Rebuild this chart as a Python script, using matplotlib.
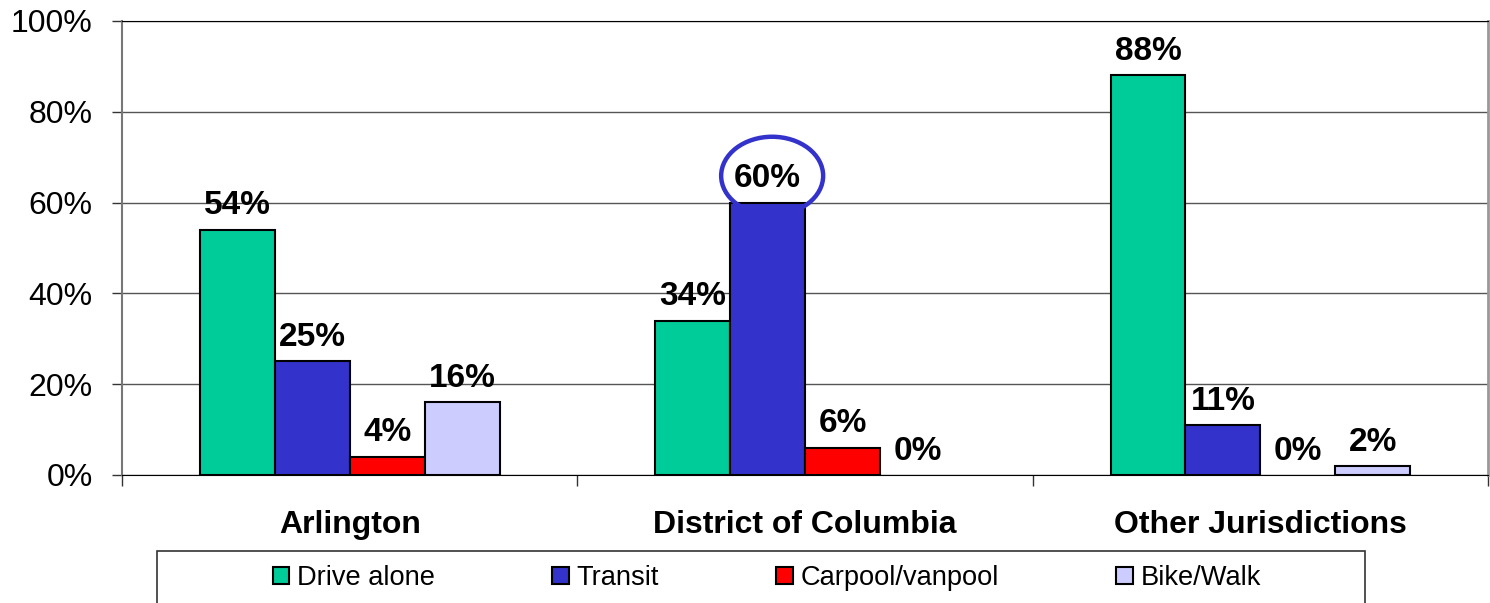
import numpy as np
import matplotlib
matplotlib.use('Agg')
import matplotlib.pyplot as plt
from matplotlib.patches import Ellipse, Rectangle

plt.rcParams['font.family'] = ['Liberation Sans', 'DejaVu Sans']

# data
groups = ['Arlington', 'District of Columbia', 'Other Jurisdictions']
modes = ['Drive alone', 'Transit', 'Carpool/vanpool', 'Bike/Walk']
drive_alone = [54, 34, 88]
transit = [25, 60, 11]
carpool = [4, 6, 0]
bike_walk = [16, 0, 2]
colors = ['#00CC99', '#3333CC', '#FF0000', '#CCCCFF']

series = [drive_alone, transit, carpool, bike_walk]

fig = plt.figure(figsize=(14.9, 6.03), dpi=100)
ax = fig.add_axes([0.0819, 0.2123, 0.9168, 0.7529])

x = np.arange(len(groups))
w = 0.1645
for i, (vals, col, name) in enumerate(zip(series, colors, modes)):
    pos = x + (i - 1.5) * w
    lw = [1.5 if v > 0 else 0 for v in vals]
    ax.bar(pos, vals, w, color=col, edgecolor='black', linewidth=lw,
           label=name, zorder=3)
    for p, v in zip(pos, vals):
        ax.annotate('{}%'.format(v), (p, v), xytext=(0, 6), textcoords='offset points',
                    ha='center', va='bottom', fontsize=24, fontweight='bold', zorder=5)

# highlight the DC transit share
ax.add_patch(Ellipse((1 - 0.5 * w + 0.01, 65.9), 0.224, 17.2, fill=False,
                     edgecolor='#3333CC', linewidth=3.2, zorder=6, clip_on=False))

ax.set_xlim(-0.5, 2.5)
ax.set_ylim(0, 100)
ax.set_yticks(range(0, 101, 20))
ax.set_yticklabels(['{}%'.format(t) for t in range(0, 101, 20)])
ax.tick_params(axis='y', labelsize=23, length=7, width=1, pad=14, color='#333333')
ax.set_xticks(x)
ax.set_xticklabels(groups, fontsize=23, fontweight='bold')
ax.set_xticks([-0.5, 0.5, 1.5, 2.5], minor=True)
ax.tick_params(axis='x', which='major', length=0, pad=25)
ax.tick_params(axis='x', which='minor', length=8, width=1, color='#333333')

ax.grid(axis='y', color='#555555', linewidth=1, zorder=0)
ax.set_axisbelow(True)
ax.spines['top'].set_color('black')
ax.spines['left'].set_color('#777777')
ax.spines['left'].set_linewidth(1.5)
ax.spines['right'].set_color('#999999')
ax.spines['right'].set_linewidth(2)
ax.spines['bottom'].set_color('black')

# legend box
fig.patches.append(Rectangle((157 / 1490, -0.01), (1365 - 157) / 1490, 0.0962,
                             transform=fig.transFigure, fill=False,
                             edgecolor='#333333', linewidth=1.2))
fig.legend(loc='center', bbox_to_anchor=(767 / 1490, 0.0415), ncol=4, frameon=False,
           fontsize=19.6, handlelength=0.6, handleheight=0.6, handletextpad=0.3,
           columnspacing=4.3, borderpad=0)

fig.savefig('out.png', dpi=100)
